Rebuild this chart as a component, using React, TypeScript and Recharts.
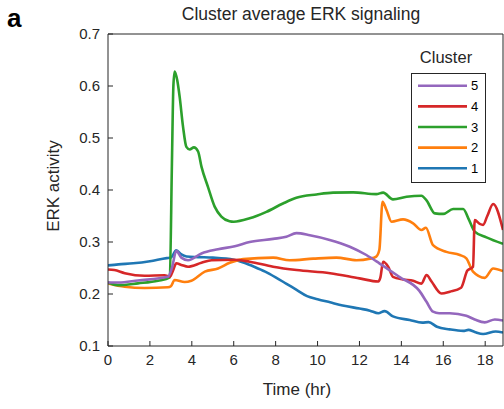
import { LineChart, Line, XAxis, YAxis } from 'recharts'

// time (hr) and ERK activity for each cluster
const TIME_1 = [0, 0.5, 1.2, 2.0, 2.8, 3.0, 3.26, 3.5, 3.75, 4.3, 5.0, 6.0, 6.5, 7.0, 7.5, 8.0, 8.5, 9.0, 9.5, 10.0, 10.6, 11.2, 12.0, 12.5, 12.9, 13.2, 13.6, 14.4, 15.0, 15.3, 15.7, 16.3, 16.95, 17.2, 17.5, 17.9, 18.5, 18.85]
const ERK_1 = [0.255, 0.257, 0.259, 0.263, 0.269, 0.27, 0.284, 0.276, 0.272, 0.271, 0.27, 0.266, 0.26, 0.252, 0.243, 0.232, 0.22, 0.208, 0.196, 0.19, 0.184, 0.178, 0.172, 0.168, 0.163, 0.167, 0.157, 0.15, 0.145, 0.146, 0.137, 0.132, 0.129, 0.131, 0.127, 0.123, 0.128, 0.126]

const TIME_2 = [0, 0.8, 1.75, 2.86, 3.0, 3.18, 3.66, 3.98, 4.62, 5.25, 5.81, 6.45, 7.88, 8.67, 9.79, 10.9, 11.86, 12.5, 12.8, 12.95, 13.1, 13.29, 13.53, 14.08, 14.56, 14.96, 15.17, 15.51, 16.15, 16.79, 17.1, 17.42, 17.98, 18.38, 18.85]
const ERK_2 = [0.2205, 0.214, 0.2115, 0.213, 0.215, 0.227, 0.223, 0.2255, 0.243, 0.249, 0.26, 0.267, 0.27, 0.265, 0.268, 0.27, 0.265, 0.268, 0.272, 0.285, 0.3775, 0.3615, 0.339, 0.3435, 0.336, 0.323, 0.3275, 0.294, 0.281, 0.275, 0.2685, 0.243, 0.231, 0.249, 0.244]

const TIME_3 = [0, 0.48, 1.43, 2.39, 2.95, 3.05, 3.12, 3.18, 3.3, 3.42, 3.58, 3.74, 3.9, 4.1, 4.3, 4.46, 4.77, 5.09, 5.41, 5.8, 6.0, 6.76, 7.56, 8.35, 8.99, 9.95, 10.74, 11.7, 12.8, 13.13, 13.6, 14.25, 14.96, 15.2, 15.6, 16.0, 16.47, 16.95, 17.2, 17.5, 18.06, 18.85]
const ERK_3 = [0.222, 0.217, 0.2205, 0.2255, 0.232, 0.45, 0.6, 0.628, 0.612, 0.579, 0.522, 0.483, 0.478, 0.482, 0.474, 0.445, 0.406, 0.368, 0.349, 0.34, 0.339, 0.3455, 0.358, 0.374, 0.385, 0.3915, 0.395, 0.3955, 0.392, 0.395, 0.382, 0.387, 0.389, 0.38, 0.355, 0.354, 0.3635, 0.3635, 0.345, 0.32, 0.309, 0.2965]

const TIME_4 = [0, 0.3, 0.8, 1.75, 2.7, 2.95, 3.1, 3.26, 3.5, 3.82, 4.46, 4.94, 6.0, 6.76, 7.88, 9.0, 10.6, 12.0, 12.9, 13.0, 13.13, 13.37, 13.6, 14.08, 14.56, 14.96, 15.2, 15.44, 15.91, 16.31, 16.85, 17.15, 17.42, 17.5, 17.74, 17.9, 18.1, 18.38, 18.85]
const ERK_4 = [0.247, 0.246, 0.24, 0.235, 0.236, 0.233, 0.245, 0.259, 0.256, 0.2525, 0.26, 0.265, 0.266, 0.262, 0.2525, 0.246, 0.24, 0.23, 0.224, 0.232, 0.262, 0.2525, 0.233, 0.228, 0.2255, 0.22, 0.2365, 0.224, 0.201, 0.2045, 0.212, 0.245, 0.2525, 0.342, 0.335, 0.333, 0.35, 0.373, 0.323]

const TIME_5 = [0, 0.5, 1.43, 2.86, 3.05, 3.26, 3.5, 3.82, 4.46, 5.25, 6.05, 6.76, 7.88, 8.51, 8.99, 9.63, 10.58, 11.54, 12.33, 12.95, 13.9, 14.86, 15.2, 15.51, 15.8, 16.31, 17.1, 17.5, 17.98, 18.46, 18.85]
const ERK_5 = [0.222, 0.222, 0.226, 0.233, 0.25, 0.283, 0.27, 0.265, 0.278, 0.286, 0.292, 0.3, 0.306, 0.31, 0.317, 0.313, 0.304, 0.291, 0.275, 0.259, 0.233, 0.206, 0.185, 0.166, 0.163, 0.163, 0.158, 0.151, 0.1455, 0.151, 0.149]

const SERIES = [
  { name: '1', time: TIME_1, erk: ERK_1, color: '#1f77b4' },
  { name: '2', time: TIME_2, erk: ERK_2, color: '#ff7f0e' },
  { name: '3', time: TIME_3, erk: ERK_3, color: '#2ca02c' },
  { name: '4', time: TIME_4, erk: ERK_4, color: '#d62728' },
  { name: '5', time: TIME_5, erk: ERK_5, color: '#9467bd' },
]

const X_TICKS = [0, 2, 4, 6, 8, 10, 12, 14, 16, 18]
const X_MINOR = [0, 1, 2, 3, 4, 5, 6, 7, 8, 9, 10, 11, 12, 13, 14, 15, 16, 17, 18]
const Y_TICKS = [0.1, 0.2, 0.3, 0.4, 0.5, 0.6, 0.7]
const X_MAX = 18.85

const INK = '#262626'
const FONT = '"Liberation Sans", Arial, sans-serif'

export default function App() {
  const tickStyle = { fontSize: 15, fill: INK, fontFamily: FONT }

  return (
    <div style={{ position: 'absolute', left: 0, top: 0, width: 504, height: 409, background: 'white' }}>
      <LineChart width={504} height={409} margin={{ top: 33, right: 0, bottom: 0, left: 0 }}>
        <XAxis
          dataKey="t"
          type="number"
          domain={[0, X_MAX]}
          allowDataOverflow
          ticks={X_TICKS}
          interval={0}
          height={63}
          tickSize={-5}
          tickMargin={13}
          stroke={INK}
          tick={tickStyle}
        />
        <XAxis
          xAxisId="top"
          orientation="top"
          type="number"
          domain={[0, X_MAX]}
          allowDataOverflow
          ticks={X_MINOR}
          interval={0}
          height={1}
          tickSize={-5}
          tick={false}
          stroke={INK}
        />
        <YAxis
          type="number"
          domain={[0.1, 0.7]}
          allowDataOverflow
          ticks={Y_TICKS}
          interval={0}
          width={108}
          tickSize={-5}
          tickMargin={13}
          stroke={INK}
          tick={tickStyle}
          tickFormatter={(v: number) => v.toFixed(1)}
        />
        <YAxis
          yAxisId="right"
          orientation="right"
          type="number"
          domain={[0.1, 0.7]}
          allowDataOverflow
          ticks={Y_TICKS}
          interval={0}
          width={1}
          tickSize={-5}
          tick={false}
          stroke={INK}
        />
        {SERIES.map((s) => (
          <Line
            key={s.name}
            data={s.time.map((t, i) => ({ t, erk: s.erk[i] }))}
            dataKey="erk"
            name={s.name}
            type="monotone"
            stroke={s.color}
            strokeWidth={2.6}
            dot={false}
            activeDot={false}
            isAnimationActive={false}
          />
        ))}
      </LineChart>

      <svg
        width={504}
        height={409}
        style={{ position: 'absolute', left: 0, top: 0, pointerEvents: 'none' }}
        fontFamily={FONT}
      >
        <text x={7} y={27} fontSize={26} fontWeight="bold" fill="#000">a</text>
        <text x={301} y={20} fontSize={17.5} textAnchor="middle" fill={INK}>
          Cluster average ERK signaling
        </text>
        <text x={59} y={186} fontSize={17} textAnchor="middle" fill={INK} transform="rotate(-90 59 186)">
          ERK activity
        </text>
        <text x={297} y={395} fontSize={17} textAnchor="middle" fill={INK}>
          Time (hr)
        </text>

        {/* legend, highest cluster on top */}
        <text x={446} y={63} fontSize={16.5} textAnchor="middle" fill={INK}>Cluster</text>
        <rect x={411.5} y={73.5} width={74} height={109} fill="white" stroke={INK} strokeWidth={1} />
        {[...SERIES].reverse().map((s, i) => {
          const cy = 85.7 + i * 20.65
          return (
            <g key={s.name}>
              <line x1={418} x2={467} y1={cy} y2={cy} stroke={s.color} strokeWidth={2.6} />
              <text x={471} y={cy + 4.6} fontSize={13} fill="#000">{s.name}</text>
            </g>
          )
        })}
      </svg>
    </div>
  )
}
